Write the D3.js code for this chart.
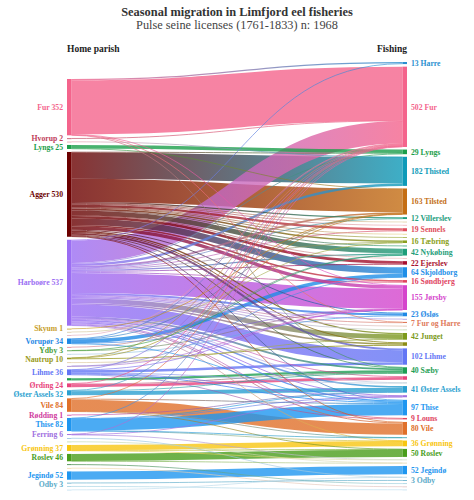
<!DOCTYPE html>
<html><head><meta charset="utf-8">
<script src="https://cdn.jsdelivr.net/npm/d3@7"></script>
<style>body{margin:0;background:#fff}svg{display:block}</style>
</head><body>
<svg id="chart" width="474" height="500"></svg>
<script>
// ---------------- DATA ----------------
const titleText = "Seasonal migration in Limfjord eel fisheries";
const subtitleText = "Pulse seine licenses (1761-1833) n: 1968";
const leftHeader = "Home parish";
const rightHeader = "Fishing";

// home parishes, top to bottom (u* = small unlabelled parishes)
const homeParish = ["Fur","Hvorup","u1","Lyngs","Agger","Harboøre","Skyum","u2","u3","Vorupør","u4","Ydby","u5","Nautrup","u6","u7","Lihme","u8","Ørding","Øster Assels","Vile","Rødding","Thise","Ferring","u9","u10","Grønning","Roslev","u11","u12","Jegindø","Odby","u13","u14"];

// fishing waters, top to bottom (r* = small unlabelled waters)
const fishingWater = ["Harre","Fur","Lyngs","Thisted","Tilsted","Villerslev","r1","r2","Sennels","r3","r4","Tæbring","r5","Nykøbing","r6","Ejerslev","Skjoldborg","Søndbjerg","Jørsby","Øsløs","r7","Fur og Harre","r8","r9","Junget","r10","Lihme","Sæby","r11","r12","Øster Assels","r13","Thise","Louns","Vile","r14","Grønning","Roslev","r15","r16","Jegindø","r17","Odby","r18","r19","r20"];

// licences: [home parish, fishing water, count]
const flows = [
 ["Fur","Harre",8],["Fur","Fur",338],["Fur","Jørsby",2],["Fur","Fur og Harre",3],["Fur","Sæby",1],
 ["Hvorup","Fur",2],
 ["u1","Thisted",2],
 ["Lyngs","Lyngs",22],["Lyngs","Tilsted",3],
 ["Agger","Lyngs",3],["Agger","Thisted",165],["Agger","Tilsted",145],["Agger","Villerslev",8],["Agger","r1",4],["Agger","r2",5],["Agger","Sennels",14],["Agger","r3",4],["Agger","r4",5],["Agger","Tæbring",10],["Agger","r5",4],["Agger","Nykøbing",30],["Agger","r6",3],["Agger","Ejerslev",16],["Agger","Skjoldborg",40],["Agger","Søndbjerg",10],["Agger","Jørsby",20],["Agger","Øsløs",6],["Agger","Junget",8],["Agger","r10",6],["Agger","Lihme",12],["Agger","Sæby",5],["Agger","Thise",4],["Agger","Vile",3],
 ["Harboøre","Harre",5],["Harboøre","Fur",140],["Harboøre","Lyngs",4],["Harboøre","Thisted",15],["Harboøre","Tilsted",10],["Harboøre","Villerslev",4],["Harboøre","Sennels",5],["Harboøre","Tæbring",4],["Harboøre","Nykøbing",8],["Harboøre","Ejerslev",6],["Harboøre","Søndbjerg",6],["Harboøre","Jørsby",125],["Harboøre","Øsløs",12],["Harboøre","r7",3],["Harboøre","Fur og Harre",4],["Harboøre","r8",7],["Harboøre","r9",7],["Harboøre","Junget",30],["Harboøre","r10",10],["Harboøre","Lihme",75],["Harboøre","Sæby",12],["Harboøre","r11",4],["Harboøre","r12",4],["Harboøre","Øster Assels",10],["Harboøre","r13",6],["Harboøre","Thise",8],["Harboøre","Louns",5],["Harboøre","Vile",6],["Harboøre","Grønning",2],
 ["Skyum","Tilsted",1],
 ["u2","Tæbring",2],
 ["u3","Fur",2],
 ["Vorupør","Fur",4],["Vorupør","Tilsted",2],["Vorupør","Skjoldborg",22],["Vorupør","Jørsby",4],["Vorupør","Thise",2],
 ["u4","Nykøbing",3],
 ["Ydby","Nykøbing",1],["Ydby","Jørsby",2],
 ["u5","Øsløs",5],
 ["Nautrup","Fur",2],["Nautrup","Tilsted",2],["Nautrup","r10",6],
 ["u6","Junget",4],
 ["u7","Skjoldborg",2],["u7","Jørsby",1],
 ["Lihme","Fur",4],["Lihme","Jørsby",1],["Lihme","Lihme",15],["Lihme","r12",3],["Lihme","r13",3],["Lihme","Thise",6],["Lihme","Louns",4],
 ["u8","Sæby",14],
 ["Ørding","Fur",2],["Ørding","Sæby",4],["Ørding","r11",18],
 ["Øster Assels","Fur",2],["Øster Assels","Sæby",4],["Øster Assels","Øster Assels",26],
 ["Vile","Fur",2],["Vile","Thise",6],["Vile","Vile",71],["Vile","r14",2],["Vile","Roslev",3],
 ["Rødding","Øster Assels",1],
 ["Thise","Fur",2],["Thise","Øster Assels",4],["Thise","r13",2],["Thise","Thise",71],["Thise","r14",2],["Thise","Grønning",1],
 ["Ferring","Fur",2],["Ferring","r13",2],["Ferring","r15",2],
 ["u9","r17",3],
 ["u10","r16",3],
 ["Grønning","Grønning",33],["Grønning","Roslev",2],["Grønning","r15",2],
 ["Roslev","Roslev",45],["Roslev","r16",1],
 ["u11","r18",4],
 ["u12","r19",3],
 ["Jegindø","Jegindø",52],
 ["Odby","Odby",3],
 ["u13","r20",3],
 ["u14","r17",2]
];

// ---------------- STYLE ----------------
const leftColor = {"Fur":"#f4648c","Hvorup":"#c0405a","u1":"#e8a0b0","Lyngs":"#1b9e4b","Agger":"#6b0000","Harboøre":"#9b6ef3","Skyum":"#c8a02a","u2":"#d8c8a0","u3":"#e0b0c0","Vorupør":"#1e88e5","u4":"#e08090","Ydby":"#4aa03a","u5":"#b0d0e0","Nautrup":"#9a9a20","u6":"#e0c8a0","u7":"#a080d0","Lihme":"#6376f5","u8":"#1b9e4b","Ørding":"#e8437c","Øster Assels":"#2a9fd0","Vile":"#e0702a","Rødding":"#d040a0","Thise":"#1e96f0","Ferring":"#a070e0","u9":"#90c0e0","u10":"#c0d8b0","Grønning":"#f8c612","Roslev":"#4a9e1c","u11":"#2e7d32","u12":"#f0d8a8","Jegindø":"#1e96f0","Odby":"#5aaac8","u13":"#a0d0e0","u14":"#c0e0f0"};
const rightColor = {"Harre":"#2a8fd0","Fur":"#f4648c","Lyngs":"#1b9e4b","Thisted":"#0e9ab8","Tilsted":"#c46e14","Villerslev":"#1e9e7e","r1":"#e0d0a0","r2":"#f0b0b8","Sennels":"#e04d5c","r3":"#e8d890","r4":"#a0b040","Tæbring":"#8aa020","r5":"#30a070","Nykøbing":"#1f9e7a","r6":"#f0c0c0","Ejerslev":"#a8102e","Skjoldborg":"#1f8fe8","Søndbjerg":"#e0445f","Jørsby":"#d545cc","Øsløs":"#1e88e5","r7":"#a090e0","Fur og Harre":"#e07a5a","r8":"#e8d0c0","r9":"#d0e0c0","Junget":"#7c9a1c","r10":"#8c8c14","Lihme":"#6376f5","Sæby":"#1e9e55","r11":"#e8437c","r12":"#c0d0d8","Øster Assels":"#2a9fd0","r13":"#a070e0","Thise":"#1e96f0","Louns":"#e0445f","Vile":"#e0702a","r14":"#30a0b0","Grønning":"#f8c612","Roslev":"#4a9e1c","r15":"#d0e0c8","r16":"#e0d8b0","Jegindø":"#1e96f0","r17":"#b0d0e0","Odby":"#5aaac8","r18":"#a0d0e0","r19":"#e0c0c0","r20":"#c0e0f0"};

const FONT = "'Liberation Serif', 'DejaVu Serif', serif";
const isUnlabelled = n => /^[ur]\d+$/.test(n);

// ---------------- LAYOUT ----------------
const svg = d3.select("#chart");
const xLeft = 67, xRight = 402.5, nodeW = 4.5;
const thick = d3.scaleLinear().domain([0, 1000]).range([0, 160]);

const L = homeParish.map(name => ({name, side:"L", color:leftColor[name], out:[], inc:[]}));
const R = fishingWater.map(name => ({name, side:"R", color:rightColor[name], out:[], inc:[]}));
const Lmap = new Map(L.map(d => [d.name, d]));
const Rmap = new Map(R.map(d => [d.name, d]));
const links = flows.map(([s,t,v]) => {
  const l = {source:Lmap.get(s), target:Rmap.get(t), value:v};
  l.source.out.push(l); l.target.inc.push(l); return l;
});
L.forEach(n => n.value = d3.sum(n.out, l => l.value));
R.forEach(n => n.value = d3.sum(n.inc, l => l.value));

function stack(nodes, top, bottom) {
  const total = d3.sum(nodes, n => thick(n.value));
  const pad = (bottom - top - total) / (nodes.length - 1);
  const pos = d3.scaleLinear().domain([0, nodes.length - 1]).range([top, top + pad*(nodes.length-1)]);
  let acc = 0;
  nodes.forEach((n, i) => { n.y0 = pos(i) + acc; acc += thick(n.value); n.y1 = pos(i) + acc; });
}
stack(L, 79, 490);
stack(R, 62, 490);

L.forEach(n => {
  let y = n.y0;
  n.out.sort((a,b) => a.target.y0 - b.target.y0).forEach(l => { l.width = thick(l.value); l.sy = y + l.width/2; y += l.width; });
});
R.forEach(n => {
  let y = n.y0;
  n.inc.sort((a,b) => a.source.y0 - b.source.y0).forEach(l => { l.ty = y + l.width/2; y += l.width; });
});

// label positions: node centre, nudged apart so that labels never collide
function placeLabels(nodes, minGap) {
  const ls = nodes.filter(n => !isUnlabelled(n.name));
  ls.forEach(n => n.ly = (n.y0 + n.y1) / 2);
  for (let i = 1; i < ls.length; i++) {
    if (ls[i].ly - ls[i-1].ly < minGap) ls[i].ly = ls[i-1].ly + minGap;
  }
  return ls;
}
const leftLabels = placeLabels(L, 8.8);
const rightLabels = placeLabels(R, 8.8);

// ---------------- DRAW ----------------
const defs = svg.append("defs");
links.forEach((l, i) => {
  const g = defs.append("linearGradient").attr("id", "lg" + i)
    .attr("gradientUnits", "userSpaceOnUse")
    .attr("x1", xLeft + nodeW).attr("x2", xRight).attr("y1", 0).attr("y2", 0);
  g.append("stop").attr("offset", "0%").attr("stop-color", l.source.color);
  g.append("stop").attr("offset", "100%").attr("stop-color", l.target.color);
  l.grad = "lg" + i;
});

const linkGen = d3.linkHorizontal()
  .source(l => [xLeft + nodeW, l.sy])
  .target(l => [xRight, l.ty]);

svg.append("g").attr("fill", "none")
  .selectAll("path").data(links.slice().sort((a,b) => b.value - a.value)).join("path")
  .attr("d", linkGen)
  .attr("stroke", l => `url(#${l.grad})`)
  .attr("stroke-opacity", 0.8)
  .attr("stroke-width", l => Math.max(0.8, l.width));

svg.append("g").selectAll("rect").data(L.concat(R)).join("rect")
  .attr("x", n => n.side === "L" ? xLeft : xRight)
  .attr("y", n => n.y0)
  .attr("width", nodeW)
  .attr("height", n => Math.max(0.8, n.y1 - n.y0))
  .attr("fill", n => n.color);

svg.append("g").selectAll("text").data(leftLabels).join("text")
  .attr("x", xLeft - 4).attr("y", n => n.ly).attr("dy", "0.35em")
  .attr("text-anchor", "end")
  .style("font", `bold 7.7px ${FONT}`).attr("fill", n => n.color)
  .text(n => `${n.name} ${n.value}`);

svg.append("g").selectAll("text").data(rightLabels).join("text")
  .attr("x", xRight + nodeW + 4).attr("y", n => n.ly).attr("dy", "0.35em")
  .attr("text-anchor", "start")
  .style("font", `bold 7.7px ${FONT}`).attr("fill", n => n.color)
  .text(n => `${n.value} ${n.name}`);

svg.append("text").attr("x", 237).attr("y", 16).attr("text-anchor", "middle")
  .style("font", `bold 12.4px ${FONT}`).attr("fill", "#333").text(titleText);
svg.append("text").attr("x", 237).attr("y", 28.5).attr("text-anchor", "middle")
  .style("font", `12.3px ${FONT}`).attr("fill", "#444").text(subtitleText);
svg.append("text").attr("x", xLeft).attr("y", 52).attr("text-anchor", "start")
  .style("font", `bold 9.5px ${FONT}`).attr("fill", "#222").text(leftHeader);
svg.append("text").attr("x", xRight + nodeW).attr("y", 52).attr("text-anchor", "end")
  .style("font", `bold 9.5px ${FONT}`).attr("fill", "#222").text(rightHeader);
</script>
</body></html>
